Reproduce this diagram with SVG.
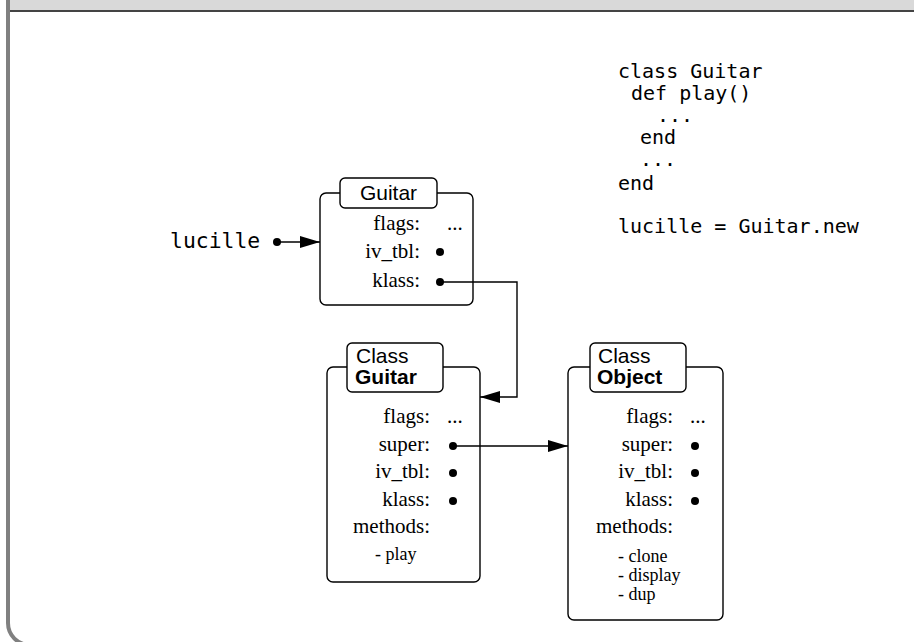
<svg xmlns="http://www.w3.org/2000/svg" width="914" height="642" viewBox="0 0 914 642">
<style>
.box{fill:#fff;stroke:#000;stroke-width:1.4}
.lbl{font-family:"Liberation Serif",serif;font-size:21px;fill:#000}
.r{text-anchor:end}
.sm{font-family:"Liberation Serif",serif;font-size:18px;fill:#000}
.ttl{font-family:"Liberation Sans",Arial,sans-serif;font-size:21px;fill:#000}
.b{font-weight:bold}
.code{font-family:"DejaVu Sans Mono",monospace;font-size:20px;fill:#000;white-space:pre}
.dot{fill:#000}
.conn{fill:none;stroke:#000;stroke-width:1.4}
</style>
<defs>
<marker id="arr" markerUnits="userSpaceOnUse" markerWidth="22" markerHeight="12" refX="20" refY="6" orient="auto">
<path d="M0,0 L20,6 L0,12 Z" fill="#000"/>
</marker>
</defs>
<g id="frame">
<rect x="0" y="0" width="914" height="642" fill="#fff"/>
<rect x="8" y="-30" width="922" height="675" rx="22" fill="#fff" stroke="#808080" stroke-width="4"/>
<rect x="10" y="0" width="904" height="10" fill="#d9d9d9"/>
<line x1="10" y1="11" x2="914" y2="11" stroke="#444" stroke-width="2"/>
</g>
<g id="code">
<text class="code" x="618" y="78">class Guitar</text>
<text class="code" x="631" y="100">def play()</text>
<text class="code" x="657" y="122">...</text>
<text class="code" x="640" y="144">end</text>
<text class="code" x="640" y="166">...</text>
<text class="code" x="618" y="190">end</text>
<text class="code" x="618" y="233">lucille = Guitar.new</text>
</g>
<g id="lucille">
<text x="170" y="248" font-family="DejaVu Sans Mono,monospace" font-size="21.4">lucille</text>
<circle class="dot" cx="277" cy="242" r="4"/>
</g>
<g id="guitar-instance">
<rect class="box" x="320" y="193" width="153" height="112" rx="6"/>
<rect class="box" x="340" y="178" width="97" height="30" rx="5"/>
<text class="ttl" x="388.5" y="200" text-anchor="middle">Guitar</text>
<text class="lbl r" x="420" y="230">flags:</text>
<text class="lbl" x="447" y="230">...</text>
<text class="lbl r" x="420" y="258">iv_tbl:</text>
<circle class="dot" cx="440" cy="252" r="4"/>
<text class="lbl r" x="420" y="287">klass:</text>
<circle class="dot" cx="440" cy="282" r="4"/>
</g>
<g id="class-guitar">
<rect class="box" x="327" y="367" width="153" height="215" rx="6"/>
<rect class="box" x="347" y="343" width="96" height="49" rx="5"/>
<text class="ttl" x="356" y="363">Class</text>
<text class="ttl b" x="355" y="384">Guitar</text>
<text class="lbl r" x="430" y="423">flags:</text>
<text class="lbl" x="447" y="423">...</text>
<text class="lbl r" x="430" y="451">super:</text>
<circle class="dot" cx="453" cy="446" r="4"/>
<text class="lbl r" x="430" y="478">iv_tbl:</text>
<circle class="dot" cx="453" cy="473" r="4"/>
<text class="lbl r" x="430" y="506">klass:</text>
<circle class="dot" cx="453" cy="501" r="4"/>
<text class="lbl r" x="430" y="533">methods:</text>
<text class="sm" x="375" y="560">- play</text>
</g>
<g id="class-object">
<rect class="box" x="568" y="367" width="155" height="253" rx="6"/>
<rect class="box" x="590" y="343" width="96" height="49" rx="5"/>
<text class="ttl" x="598" y="363">Class</text>
<text class="ttl b" x="597" y="384">Object</text>
<text class="lbl r" x="673" y="423">flags:</text>
<text class="lbl" x="690" y="423">...</text>
<text class="lbl r" x="673" y="451">super:</text>
<circle class="dot" cx="695" cy="446" r="4"/>
<text class="lbl r" x="673" y="478">iv_tbl:</text>
<circle class="dot" cx="695" cy="473" r="4"/>
<text class="lbl r" x="673" y="506">klass:</text>
<circle class="dot" cx="695" cy="501" r="4"/>
<text class="lbl r" x="673" y="533">methods:</text>
<text class="sm" x="618" y="562">- clone</text>
<text class="sm" x="618" y="581">- display</text>
<text class="sm" x="618" y="600">- dup</text>
</g>
<g id="connectors">
<path class="conn" d="M277,242 H320" marker-end="url(#arr)"/>
<path class="conn" d="M440,282 H517 V397 H480" marker-end="url(#arr)"/>
<path class="conn" d="M453,446 H568" marker-end="url(#arr)"/>
</g>
</svg>
